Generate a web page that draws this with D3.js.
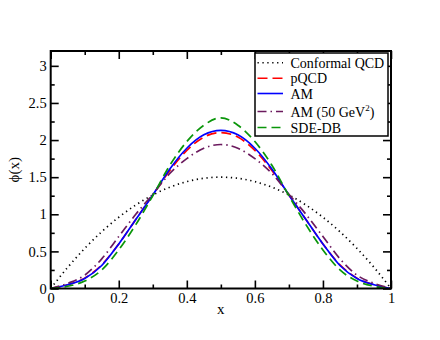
<!DOCTYPE html>
<meta charset="utf-8">
<style>
body { margin: 0; background: #fff; }
text { font-family: "Liberation Serif", "DejaVu Serif", serif; }
.axis text { font-size: 14.5px; fill: #000; }
.axis path { display: none; }
.axis line { stroke: #000; stroke-width: 1.6px; }
.curve { fill: none; stroke-width: 1.7px; }
</style>
<svg width="440" height="340"></svg>
<script src="https://d3js.org/d3.v7.min.js"></script>
<script>

// x grid shared by all curves
var xs = [0, 0.05, 0.1, 0.15, 0.2, 0.25, 0.3, 0.35, 0.4, 0.45, 0.5,
          0.55, 0.6, 0.65, 0.7, 0.75, 0.8, 0.85, 0.9, 0.95, 1];

var conformal = [0, 0.285, 0.54, 0.765, 0.96, 1.125, 1.26, 1.365, 1.44, 1.485, 1.5,
                 1.485, 1.44, 1.365, 1.26, 1.125, 0.96, 0.765, 0.54, 0.285, 0];
var pqcd = [0, 0.05, 0.14, 0.32, 0.6, 0.93, 1.26, 1.59, 1.86, 2.04, 2.10,
            2.04, 1.86, 1.59, 1.26, 0.93, 0.6, 0.32, 0.14, 0.05, 0];
var am = [0, 0.05, 0.135, 0.31, 0.6, 0.93, 1.26, 1.61, 1.89, 2.07, 2.13,
          2.07, 1.89, 1.61, 1.26, 0.93, 0.6, 0.31, 0.135, 0.05, 0];
var am50 = [0, 0.07, 0.18, 0.40, 0.70, 1.0, 1.27, 1.55, 1.75, 1.89, 1.94,
            1.89, 1.75, 1.55, 1.27, 1.0, 0.70, 0.40, 0.18, 0.07, 0];
var sdedb = [0, 0.03, 0.10, 0.25, 0.52, 0.86, 1.25, 1.66, 1.98, 2.2, 2.30,
             2.2, 1.98, 1.66, 1.25, 0.86, 0.52, 0.25, 0.10, 0.03, 0];

var xTicks = [0, 0.2, 0.4, 0.6, 0.8, 1];
var yTicks = [0, 0.5, 1, 1.5, 2, 2.5, 3];

var series = [
  {name: "Conformal QCD", values: conformal, color: "#000", dash: "1.3,3.6"},
  {name: "pQCD", values: pqcd, color: "#ff0000", dash: "10,5"},
  {name: "AM", values: am, color: "#0000ff", dash: null},
  {name: "AM (50 GeV", sup: "2", tail: ")", values: am50, color: "#6b1a5e", dash: "9,4,1.5,4"},
  {name: "SDE-DB", values: sdedb, color: "#0a960a", dash: "9,5"}
];

var svg = d3.select("svg");
var pL = 50.7, pR = 391, pT = 51, pB = 288.5;

var x = d3.scaleLinear().domain([0, 1]).range([pL, pR]);
var y = d3.scaleLinear().domain([0, 3.2]).range([pB, pT]);

var fmt = function(d) { return d3.format("")(d); };

// minor ticks
svg.append("g").attr("class", "axis").attr("transform", "translate(0," + pB + ")")
  .call(d3.axisBottom(x).tickValues(d3.range(0.1, 1, 0.2)).tickSize(-4).tickFormat(""));
svg.append("g").attr("class", "axis").attr("transform", "translate(0," + pT + ")")
  .call(d3.axisTop(x).tickValues(d3.range(0.1, 1, 0.2)).tickSize(-4).tickFormat(""));
svg.append("g").attr("class", "axis").attr("transform", "translate(" + pL + ",0)")
  .call(d3.axisLeft(y).tickValues(d3.range(0.25, 3.2, 0.5)).tickSize(-4).tickFormat(""));
svg.append("g").attr("class", "axis").attr("transform", "translate(" + pR + ",0)")
  .call(d3.axisRight(y).tickValues(d3.range(0.25, 3.2, 0.5)).tickSize(-4).tickFormat(""));

// major ticks
svg.append("g").attr("class", "axis").attr("transform", "translate(0," + pB + ")")
  .call(d3.axisBottom(x).tickValues(xTicks).tickSize(-8).tickPadding(4).tickFormat(fmt));
svg.append("g").attr("class", "axis").attr("transform", "translate(0," + pT + ")")
  .call(d3.axisTop(x).tickValues(xTicks).tickSize(-8).tickFormat(""));
svg.append("g").attr("class", "axis").attr("transform", "translate(" + pL + ",0)")
  .call(d3.axisLeft(y).tickValues(yTicks).tickSize(-8).tickPadding(4).tickFormat(fmt));
svg.append("g").attr("class", "axis").attr("transform", "translate(" + pR + ",0)")
  .call(d3.axisRight(y).tickValues(yTicks).tickSize(-8).tickFormat(""));

var line = d3.line()
    .x(function(d, i) { return x(xs[i]); })
    .y(function(d) { return y(d); })
    .curve(d3.curveMonotoneX);

svg.append("g").selectAll("path")
  .data(series)
  .enter().append("path")
    .attr("class", "curve")
    .attr("d", function(d) { return line(d.values); })
    .attr("stroke", function(d) { return d.color; })
    .attr("stroke-dasharray", function(d) { return d.dash; });

// frame
svg.append("rect")
    .attr("x", pL).attr("y", pT)
    .attr("width", pR - pL).attr("height", pB - pT)
    .attr("fill", "none").attr("stroke", "#000").attr("stroke-width", 2);

// axis titles
svg.append("text").attr("x", x(0.5)).attr("y", 314)
    .attr("text-anchor", "middle").style("font-size", "15px").text("x");
svg.append("text")
    .attr("transform", "translate(19," + (pT + pB) / 2 + ") rotate(-90)")
    .attr("text-anchor", "middle").style("font-size", "15px").text("ϕ(x)");

// legend
var legend = svg.append("g");
legend.append("rect")
    .attr("x", 255).attr("y", 53).attr("width", 133).attr("height", 83)
    .attr("fill", "#fff").attr("stroke", "#000").attr("stroke-width", 1.5);
var rowY = [62.7, 78.3, 93.5, 111.5, 127.5];
var item = legend.selectAll("g.item")
  .data(series)
  .enter().append("g")
    .attr("class", "item")
    .attr("transform", function(d, i) { return "translate(0," + rowY[i] + ")"; });
item.append("line")
    .attr("x1", 257.5).attr("x2", 283)
    .attr("stroke", function(d) { return d.color; })
    .attr("stroke-width", 1.6)
    .attr("stroke-dasharray", function(d) { return d.dash; });
var label = item.append("text")
    .attr("x", 290.5).attr("y", 5)
    .style("font-size", "14px");
label.append("tspan").text(function(d) { return d.name; });
label.filter(function(d) { return d.sup; }).append("tspan")
    .attr("dy", -6).style("font-size", "9px").text(function(d) { return d.sup; });
label.filter(function(d) { return d.tail; }).append("tspan")
    .attr("dy", 6).text(function(d) { return d.tail; });

</script>
